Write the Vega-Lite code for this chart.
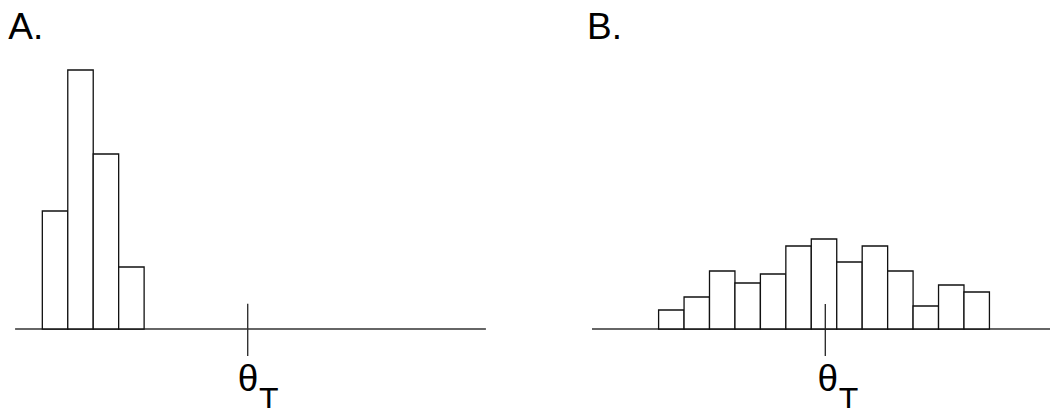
{
  "$schema": "https://vega.github.io/schema/vega-lite/v6.json",
  "padding": 0,
  "spacing": 0,
  "background": "white",
  "config": {"view": {"stroke": null}, "font": "Liberation Sans"},
  "hconcat": [
    {
      "width": 525,
      "height": 408,
      "layer": [
        {
          "data": {"values": [{"x0": 0.86, "x1": 19.36}]},
          "mark": {"type": "rule", "color": "#333333", "strokeWidth": 1.4},
          "encoding": {
            "x": {"field": "x0", "type": "quantitative", "scale": {"domain": [0.267, 20.896], "nice": false, "zero": false}, "axis": null},
            "x2": {"field": "x1"},
            "y": {"datum": 0, "type": "quantitative", "scale": {"domain": [-7.9, 32.9], "nice": false, "zero": false}, "axis": null}
          }
        },
        {
          "data": {"values": [
            {"bin_start": 1.93, "bin_end": 2.93, "count": 11.8},
            {"bin_start": 2.93, "bin_end": 3.93, "count": 25.9},
            {"bin_start": 3.93, "bin_end": 4.93, "count": 17.5},
            {"bin_start": 4.93, "bin_end": 5.93, "count": 6.2}
          ]},
          "mark": {"type": "rect", "fill": "white", "stroke": "#111111", "strokeWidth": 1.3},
          "encoding": {
            "x": {"field": "bin_start", "type": "quantitative"},
            "x2": {"field": "bin_end"},
            "y": {"field": "count", "type": "quantitative"},
            "y2": {"datum": 0}
          }
        },
        {
          "data": {"values": [{"t": 10, "y0": 2.53, "y1": -2.7}]},
          "mark": {"type": "rule", "color": "#333333", "strokeWidth": 1.4},
          "encoding": {
            "x": {"field": "t", "type": "quantitative"},
            "y": {"field": "y0", "type": "quantitative"},
            "y2": {"field": "y1"}
          }
        },
        {
          "data": {"values": [{"x": 10.01, "y": -6.2, "label": "θ"}]},
          "mark": {"type": "text", "align": "center", "baseline": "alphabetic", "fontSize": 37, "color": "black"},
          "encoding": {
            "x": {"field": "x", "type": "quantitative"},
            "y": {"field": "y", "type": "quantitative"},
            "text": {"field": "label"}
          }
        },
        {
          "data": {"values": [{"x": 10.44, "y": -8.1, "label": "T"}]},
          "mark": {"type": "text", "align": "left", "baseline": "alphabetic", "fontSize": 32, "color": "black"},
          "encoding": {
            "x": {"field": "x", "type": "quantitative"},
            "y": {"field": "y", "type": "quantitative"},
            "text": {"field": "label"}
          }
        },
        {
          "data": {"values": [{"x": 0.59, "y": 28.97, "label": "A."}]},
          "mark": {"type": "text", "align": "left", "baseline": "alphabetic", "fontSize": 37, "color": "black"},
          "encoding": {
            "x": {"field": "x", "type": "quantitative"},
            "y": {"field": "y", "type": "quantitative"},
            "text": {"field": "label"}
          }
        }
      ]
    },
    {
      "width": 525,
      "height": 408,
      "layer": [
        {
          "data": {"values": [{"x0": 0.833, "x1": 18.83}]},
          "mark": {"type": "rule", "color": "#333333", "strokeWidth": 1.4},
          "encoding": {
            "x": {"field": "x0", "type": "quantitative", "scale": {"domain": [-1.8, 18.83], "nice": false, "zero": false}, "axis": null},
            "x2": {"field": "x1"},
            "y": {"datum": 0, "type": "quantitative", "scale": {"domain": [-7.9, 32.9], "nice": false, "zero": false}, "axis": null}
          }
        },
        {
          "data": {"values": [
            {"bin_start": 3.45, "bin_end": 4.45, "count": 1.9},
            {"bin_start": 4.45, "bin_end": 5.45, "count": 3.2},
            {"bin_start": 5.45, "bin_end": 6.45, "count": 5.8},
            {"bin_start": 6.45, "bin_end": 7.45, "count": 4.6},
            {"bin_start": 7.45, "bin_end": 8.45, "count": 5.5},
            {"bin_start": 8.45, "bin_end": 9.45, "count": 8.3},
            {"bin_start": 9.45, "bin_end": 10.45, "count": 9.0},
            {"bin_start": 10.45, "bin_end": 11.45, "count": 6.7},
            {"bin_start": 11.45, "bin_end": 12.45, "count": 8.3},
            {"bin_start": 12.45, "bin_end": 13.45, "count": 5.8},
            {"bin_start": 13.45, "bin_end": 14.45, "count": 2.3},
            {"bin_start": 14.45, "bin_end": 15.45, "count": 4.4},
            {"bin_start": 15.45, "bin_end": 16.45, "count": 3.7}
          ]},
          "mark": {"type": "rect", "fill": "white", "stroke": "#111111", "strokeWidth": 1.3},
          "encoding": {
            "x": {"field": "bin_start", "type": "quantitative"},
            "x2": {"field": "bin_end"},
            "y": {"field": "count", "type": "quantitative"},
            "y2": {"datum": 0}
          }
        },
        {
          "data": {"values": [{"t": 10, "y0": 2.5, "y1": -2.7}]},
          "mark": {"type": "rule", "color": "#222222", "strokeWidth": 1.3},
          "encoding": {
            "x": {"field": "t", "type": "quantitative"},
            "y": {"field": "y0", "type": "quantitative"},
            "y2": {"field": "y1"}
          }
        },
        {
          "data": {"values": [{"x": 10.1, "y": -6.2, "label": "θ"}]},
          "mark": {"type": "text", "align": "center", "baseline": "alphabetic", "fontSize": 37, "color": "black"},
          "encoding": {
            "x": {"field": "x", "type": "quantitative"},
            "y": {"field": "y", "type": "quantitative"},
            "text": {"field": "label"}
          }
        },
        {
          "data": {"values": [{"x": 10.53, "y": -8.1, "label": "T"}]},
          "mark": {"type": "text", "align": "left", "baseline": "alphabetic", "fontSize": 32, "color": "black"},
          "encoding": {
            "x": {"field": "x", "type": "quantitative"},
            "y": {"field": "y", "type": "quantitative"},
            "text": {"field": "label"}
          }
        },
        {
          "data": {"values": [{"x": 0.64, "y": 28.97, "label": "B."}]},
          "mark": {"type": "text", "align": "left", "baseline": "alphabetic", "fontSize": 37, "color": "black"},
          "encoding": {
            "x": {"field": "x", "type": "quantitative"},
            "y": {"field": "y", "type": "quantitative"},
            "text": {"field": "label"}
          }
        }
      ]
    }
  ],
  "resolve": {"scale": {"x": "independent"}}
}
